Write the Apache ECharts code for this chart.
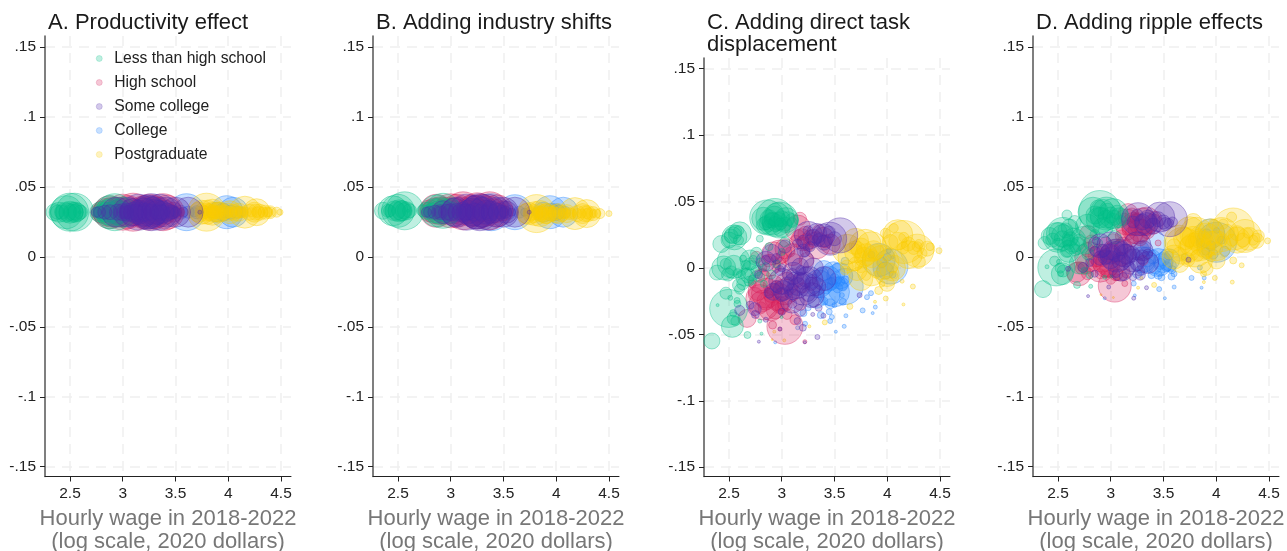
<!DOCTYPE html>
<html>
<head>
<meta charset="utf-8">
<script src="https://cdn.jsdelivr.net/npm/echarts@6/dist/echarts.min.js"></script>
<style>
  html, body { margin: 0; padding: 0; background: #fff; }
  #chart { width: 1287px; height: 551px; }
</style>
</head>
<body>
<div id="chart"></div>
<script>
// every point is [log hourly wage, wage effect, bubble size]
const groups = ['Less than high school', 'High school', 'Some college', 'College', 'Postgraduate']

const aLess = [[2.354,.032,17],[2.396,.032,20],[2.465,.032,33],[2.544,.032,38],[2.497,.032,38],[2.554,.032,20],[2.592,.032,3],[2.75,.032,10],[2.924,.032,37],[2.877,.032,33],[3.003,.032,30],[2.782,.032,20],[2.845,.032,20],
  [2.46,.032,20],[2.5,.032,22],[2.53,.032,20],[2.57,.032,18],[2.6,.032,14],[2.48,.032,18],[2.52,.032,16],[2.55,.032,16],[2.42,.032,14],[2.38,.032,14],[2.78,.032,12],[2.85,.032,25],[2.9,.032,28],[2.95,.032,25],[3.0,.032,20],[3.05,.032,15],[2.8,.032,15],[2.88,.032,20]]
const aHigh = [[2.877,.032,33],[3.098,.032,38],[3.383,.032,37],[3.193,.032,30],[2.972,.032,30],[3.478,.032,20],[2.782,.032,17],[3.288,.032,33],
  [2.8,.032,22],[2.85,.032,28],[2.9,.032,30],[2.95,.032,24],[3.02,.032,28],[3.05,.032,33],[3.1,.032,28],[3.15,.032,25],[3.2,.032,33],[3.25,.032,24],[3.3,.032,22],[3.35,.032,30],[3.4,.032,24],[3.45,.032,16],[3.5,.032,12],[3.55,.032,8],[3.0,.032,36],[3.25,.032,36],[3.42,.032,34]]
const aSome = [[3.272,.032,37],[3.256,.032,33],[3.415,.032,30],[3.098,.032,27],[2.94,.032,30],[3.478,.032,13],[3.62,.032,30],[3.573,.032,10],[3.731,.032,4],[2.75,.032,10],[3.003,.032,13],[3.161,.032,20],[3.351,.032,17],[3.446,.032,10],
  [2.78,.032,12],[2.83,.032,14],[2.88,.032,15],[2.95,.032,16],[3.0,.032,17],[3.05,.032,18],[3.1,.032,20],[3.15,.032,24],[3.2,.032,28],[3.23,.032,34],[3.28,.032,30],[3.3,.032,26],[3.33,.032,24],[3.38,.032,22],[3.42,.032,18],[3.46,.032,14],[3.5,.032,10],[3.04,.032,13],[3.08,.032,15],[3.12,.032,16],[3.17,.032,15],[3.22,.032,18],[3.27,.032,16],[3.32,.032,14],[3.37,.032,15],[3.15,.032,36],[3.35,.032,36],[3.5,.032,30],[3.05,.032,30]]
const aColl = [[3.604,.032,37],[3.984,.032,33],[4.047,.032,30],[3.889,.032,20],[3.7,.032,13],[4.12,.032,10],
  [3.55,.032,14],[3.62,.032,12],[3.68,.032,9],[3.74,.032,6],[3.78,.032,8],[3.85,.032,12],[3.95,.032,18],[3.97,.032,12],[4.02,.032,14],[4.08,.032,12]]
const aPost = [[3.794,.032,38],[4.158,.032,32],[4.269,.032,27],[4.016,.032,23],[3.92,.032,20],[4.396,.032,13],[4.491,.032,6],[4.459,.032,10],[4.269,.032,10],[3.858,.032,20],[4.364,.032,10],[4.111,.032,10],[4.079,.032,13],[3.826,.032,17],
  [3.76,.032,14],[3.8,.032,18],[3.83,.032,15],[3.87,.032,12],[3.9,.032,13],[3.95,.032,15],[3.98,.032,13],[4.03,.032,10],[4.07,.032,10],[4.13,.032,11],[4.17,.032,10],[4.22,.032,9],[4.26,.032,16],[4.29,.032,12],[4.33,.032,10],[4.38,.032,9],[3.75,.032,24],[3.72,.032,20],
  [3.8,.032,24],[3.85,.032,26],[3.9,.032,20],[4.0,.032,18],[4.05,.032,16],[4.1,.032,18],[4.2,.032,16],[4.25,.032,20],[4.3,.032,16],[4.35,.032,14],[4.4,.032,10],[3.78,.032,12],[3.82,.032,12],[3.88,.032,13],[4.0,.032,11],[4.12,.032,12]]

const bLess = [[2.358,.033,17],[2.405,.033,13],[2.453,.033,30],[2.563,.033,38],[2.5,.033,33],[2.532,.033,20],[2.595,.033,3],[2.927,.033,35],[2.864,.033,32],[2.99,.033,25],[2.769,.033,17],[2.737,.033,12],
  [2.47,.033,20],[2.51,.033,22],[2.54,.033,20],[2.58,.033,18],[2.61,.033,14],[2.49,.033,18],[2.55,.033,16],[2.42,.033,12],[2.79,.033,12],[2.85,.033,24],[2.9,.033,26],[2.95,.033,22],[3.0,.033,18],[3.04,.033,14],[2.82,.033,15],[2.88,.033,20]]
const bHigh = [[2.864,.033,33],[3.117,.033,38],[3.37,.033,38],[3.212,.033,30],[2.959,.033,27],[3.497,.033,20],[2.801,.033,18],[3.291,.033,33],
  [2.8,.033,22],[2.85,.033,26],[2.9,.033,28],[2.95,.033,24],[3.02,.033,26],[3.06,.033,33],[3.1,.033,28],[3.16,.033,25],[3.2,.033,32],[3.25,.033,24],[3.31,.033,22],[3.35,.033,30],[3.42,.033,24],[3.46,.033,16],[3.0,.033,34],[3.25,.033,36],[3.44,.033,32]]
const bSome = [[3.275,.032,37],[3.244,.032,33],[3.434,.032,30],[3.038,.032,28],[2.927,.032,23],[3.528,.032,22],[3.608,.032,30],[3.576,.032,8],[3.744,.032,4],[2.769,.032,10],[2.9,.032,12],[3.149,.032,17],[3.37,.032,17],[3.497,.032,10],
  [2.8,.032,12],[2.85,.032,14],[2.9,.032,15],[2.96,.032,16],[3.0,.032,17],[3.06,.032,18],[3.11,.032,20],[3.16,.032,24],[3.21,.032,28],[3.25,.032,34],[3.3,.032,30],[3.34,.032,24],[3.39,.032,22],[3.44,.032,18],[3.48,.032,14],[3.52,.032,12],[3.08,.032,15],[3.13,.032,16],[3.18,.032,15],[3.23,.032,18],[3.28,.032,16],[3.33,.032,14],[3.15,.032,36],[3.35,.032,36],[3.5,.032,30],[3.05,.032,30]]
const bColl = [[3.386,.032,37],[3.608,.032,35],[3.94,.032,33],[4.066,.032,30],[3.877,.032,20],[4.0,.032,17],[3.5,.032,13],
  [3.55,.032,14],[3.65,.032,12],[3.7,.032,8],[3.8,.032,8],[3.85,.032,12],[3.95,.032,18],[4.02,.032,14],[4.08,.032,12]]
const bPost = [[3.813,.031,38],[4.177,.031,32],[4.288,.031,28],[4.019,.031,20],[3.908,.031,20],[4.415,.031,10],[4.5,.031,6],[4.288,.031,10],[4.351,.031,8],[3.877,.031,17],[4.13,.031,8],[4.066,.031,10],[3.718,.031,20],
  [3.76,.031,14],[3.79,.031,18],[3.84,.031,15],[3.87,.031,12],[3.92,.031,13],[3.96,.031,15],[3.99,.031,13],[4.04,.031,10],[4.09,.031,10],[4.14,.031,11],[4.2,.031,10],[4.24,.031,9],[4.27,.031,16],[4.31,.031,12],[4.38,.031,9],[3.74,.031,22],
  [3.8,.031,24],[3.85,.031,26],[3.9,.031,20],[4.0,.031,18],[4.05,.031,16],[4.1,.031,18],[4.2,.031,16],[4.25,.031,20],[4.3,.031,16],[4.35,.031,14],[3.78,.031,12],[3.82,.031,12],[3.88,.031,13],[4.12,.031,12]]

const cLess = [[2.338,-.055,16],[2.497,-.0305,38],[2.386,-.0035,15],[2.544,.0045,33],[2.427,.018,17],[2.551,.023,25],[2.602,.026,23],[2.592,.028,10],[2.538,.0245,17],[2.532,-.044,22],[2.544,-.038,13],[2.471,-.019,12],[2.512,-.0225,5],[2.576,-.0245,6],[2.392,-.028,3],[2.675,-.0505,7],[2.808,-.0495,3],[2.595,-.013,13],[2.522,-.003,12],[2.544,.002,20],[2.76,.011,12],[2.713,-.002,20],[2.633,.007,7],[2.681,-.0055,15],[2.792,.022,7],[2.825,.037,23],[2.935,.038,38],[2.862,.038,35],[2.983,.036,36],[3.04,.036,25],[2.919,.033,22],[2.84,.032,17],[3.094,.036,13],[2.998,.0295,17],[3.03,.0195,10],[2.951,.003,8],[2.79,-.007,10],[2.998,-.037,3],[2.792,-.04,4],
  [2.85,.034,14],[2.88,.037,18],[2.91,.036,16],[2.94,.033,15],[2.97,.035,18],[3.0,.037,16],[3.03,.033,14],[3.06,.037,14],[3.1,.034,10],[2.88,.032,12],[2.93,.039,20],[2.96,.04,24],[2.99,.033,12],[2.52,.024,14],[2.56,.027,13],[2.59,.021,10],[2.5,.021,16],[2.62,-.005,8],[2.66,.002,10],[2.7,.003,12],[2.73,.006,9],[2.76,-.002,11],[2.69,-.01,10],[2.72,-.009,9],[2.63,-.012,12],[2.6,-.016,10],[2.58,-.004,9],[2.49,-.005,13],[2.47,.003,11],[2.56,-.04,9],[2.54,-.034,7],[2.58,-.027,7],[2.8,.004,9],[2.85,.001,8],[2.9,-.005,9],[2.83,-.012,7],[2.88,.016,8],[3.0,.012,7],[2.45,0,24],[2.7,.006,20],[2.65,-.007,18]]
const cHigh = [[3.03,-.044,36],[2.671,-.038,18],[2.792,-.023,28],[2.855,-.019,30],[2.935,-.032,17],[2.983,-.028,17],[2.776,-.017,20],[2.913,-.043,8],[2.92,-.013,20],[3.046,-.012,23],[2.76,.008,12],[2.92,.011,23],[3.03,.0145,20],[3.173,.037,13],[3.187,.022,20],[3.235,.0195,17],[3.33,.017,27],[3.395,.023,20],[3.11,.0045,17],[2.983,.003,13],[2.82,-.005,12],[3.173,-.027,13],[3.125,-.039,10],[3.219,-.0555,4],[2.983,-.046,4],[3.235,.006,15],[3.46,.018,20],
  [2.85,-.025,18],[2.9,-.02,16],[2.95,-.015,14],[3.0,-.03,13],[3.03,-.027,15],[2.75,-.02,14],[2.8,-.03,12],[2.95,-.028,10],[3.05,-.035,10],[3.0,-.02,12],[3.1,-.02,14],[3.15,-.01,12],[3.22,.026,14],[3.2,.018,14],[3.27,.023,15],[3.3,.02,12],[3.35,.028,12],[3.42,.02,13],[3.16,.025,10],[3.13,.02,12],[3.25,.016,10],[3.0,.008,12],[3.08,.012,10],[2.87,.005,11],[2.95,0,9],[2.82,0,8],[2.72,-.012,8],[3.05,-.005,10],[3.2,-.015,10],
  [2.83,-.028,30],[2.9,-.03,26],[2.97,-.022,28],[3.03,-.018,26],[2.8,-.01,24],[2.88,.002,22],[2.98,.012,24],[3.1,.01,22],[3.15,.03,26]]
const cSome = [[3.554,.0245,35],[3.459,.022,33],[3.395,.0245,23],[3.332,.026,20],[3.252,.0245,28],[2.903,.011,18],[3.03,.016,13],[3.284,-.0205,25],[3.205,-.0155,33],[3.141,-.013,27],[3.11,-.004,22],[3.014,-.017,20],[2.919,-.018,17],[3.332,-.014,18],[3.237,-.007,20],[2.983,-.002,10],[2.744,-.031,13],[2.602,-.032,10],[3.173,-.032,12],[2.849,-.039,5],[2.783,-.0555,3],[3.338,-.052,5],[3.219,-.056,3],[2.983,-.046,4],[3.294,-.035,4],[3.738,-.0205,5],[3.395,-.036,5],[3.205,.013,13],[3.173,.001,17],
  [3.3,.023,16],[3.35,.021,13],[3.4,.019,15],[3.45,.027,12],[3.5,.022,14],[3.25,.028,10],[3.2,.02,12],[3.27,.016,10],[3.22,.012,10],[3.15,.018,10],[3.05,-.012,14],[3.1,-.018,16],[3.15,-.014,18],[3.2,-.01,16],[3.25,-.02,14],[3.3,-.025,12],[3.0,-.02,14],[2.95,-.014,12],[2.88,-.019,10],[3.1,-.005,12],[3.18,-.002,10],[3.28,-.012,13],[2.85,.006,9],[2.95,.007,10],[3.0,0,8],[2.78,-.005,8],[2.7,-.028,8],[2.75,-.035,8],[3.15,-.04,7],[3.2,-.045,7],[3.0,-.033,7],[3.35,-.03,7],[3.1,-.027,9],
  [3.0,-.01,26],[3.1,-.025,24],[3.25,-.01,30],[3.18,.005,26],[2.85,.005,20],[3.3,0,20],[3.4,-.008,24]]
const cColl = [[3.602,-.014,36],[3.443,-.008,25],[3.57,-.012,13],[3.49,-.004,23],[3.4,-.002,20],[3.332,-.024,17],[4.03,.001,35],[3.919,.006,33],[3.98,-.002,17],[3.459,-.027,10],[3.5,-.028,5],[3.579,-.0255,7],[3.37,-.0355,7],[3.475,-.037,5],[3.459,-.04,5],[3.608,-.036,4],[3.592,-.044,4],[3.513,-.048,3],[2.938,-.056,3],[3.767,-.032,5],[3.887,-.0295,4],[3.862,-.034,3],[3.808,-.022,5],[3.846,-.019,5],[3.221,-.042,5],[3.206,-.034,7],[3.57,-.0205,5],[4.014,.013,5],[4.05,.008,3],
  [3.55,-.01,10],[3.58,-.014,9],[3.6,-.009,8],[3.53,-.015,10],[3.5,-.008,10],[3.47,-.012,12],[3.42,-.015,12],[3.38,-.005,14],[3.52,0,9],[3.6,.005,8],[3.3,-.01,14],[3.35,-.018,12],[3.4,-.025,8],[3.45,-.033,6],[3.25,-.03,6],[3.15,-.045,4],[3.95,.004,10],[4.0,.008,8],[3.85,.01,7],[4.05,-.005,7],
  [3.5,-.018,30],[3.55,-.006,26],[3.35,-.012,28],[3.45,-.02,22]]
const cPost = [[3.792,.017,32],[3.665,.008,28],[3.713,-.002,20],[4.157,.0195,43],[4.284,.013,33],[4.3,.0045,13],[4.379,.0145,15],[4.405,.016,8],[4.491,.013,6],[4.062,.03,9],[3.983,.026,10],[4.284,.016,10],[4.157,.023,10],[4.03,.0195,15],[3.78,.008,20],[3.871,.013,20],[3.998,-.012,15],[4.062,-.0055,8],[3.919,-.017,8],[4.243,-.014,5],[4.141,-.01,4],[3.986,-.023,5],[3.884,-.0255,3],[4.154,-.0275,3],[3.646,-.029,6],[3.408,-.041,5],[3.262,-.044,3],[2.929,-.048,3],[3.024,-.0545,3],[2.91,-.054,2],[3.617,.001,13],
  [3.7,.012,22],[3.75,.015,20],[3.8,.01,22],[3.85,.007,18],[3.9,.012,15],[3.7,.003,14],[3.75,.001,12],[4.2,.018,14],[4.25,.015,13],[4.3,.018,9],[4.33,.011,10],[4.1,.02,18],[4.15,.015,12],[3.95,.005,12],[4.0,.01,13],[4.05,0,10],[3.6,-.002,9],[3.8,-.006,9],[3.9,-.005,7],[3.95,-.012,6],
  [3.62,.014,30],[3.7,.02,26],[3.85,.016,30],[3.95,.004,34],[3.85,-.003,28],[3.75,-.008,24],[4.1,.025,30],[4.2,.01,28],[4.05,0,26],[4.0,-.005,24]]

const dLess = [[2.358,-.023,17],[2.484,-.0075,37],[2.468,-.003,10],[2.541,-.012,22],[2.525,-.012,6],[2.396,-.007,4],[2.509,-.0035,5],[2.373,.01,13],[2.421,.015,17],[2.547,.0165,33],[2.547,.015,23],[2.611,.021,17],[2.658,.025,13],[2.585,.03,10],[2.68,-.02,7],[2.81,-.021,4],[2.595,.0045,13],[2.69,.008,17],[2.8,-.013,7],[2.896,.0325,42],[2.832,.032,30],[2.959,.031,33],[3.022,.031,30],[2.896,.026,27],[3.085,.028,20],[3.022,.025,17],[2.927,.021,20],[3.038,.014,13],[2.785,.002,12],[2.943,-.0145,4],[3.006,-.014,3],
  [2.85,.03,18],[2.9,.028,20],[2.93,.034,20],[2.96,.027,18],[3.0,.03,16],[3.03,.028,15],[3.06,.032,14],[2.88,.035,16],[2.97,.033,15],[3.1,.026,10],[2.5,.018,18],[2.54,.013,16],[2.57,.019,15],[2.6,.012,12],[2.45,.012,14],[2.5,.009,12],[2.63,.008,16],[2.66,.005,12],[2.7,.012,12],[2.74,.006,9],[2.78,.01,9],[2.62,.013,14],[2.58,.004,12],[2.55,-.01,12],[2.52,-.008,10],[2.85,.016,10],[2.88,.01,9],[2.75,-.01,7],
  [2.75,.012,28],[2.65,.012,24],[2.5,.014,30],[2.78,.022,24],[2.6,.004,22],[2.7,-.005,20]]
const dHigh = [[3.038,-.0205,33],[2.674,-.011,20],[2.769,-.005,20],[2.959,-.005,27],[2.896,.001,23],[3.085,-.01,20],[2.785,.0165,17],[3.054,.0045,23],[3.165,.031,20],[3.212,.0235,23],[3.275,.019,23],[3.339,.026,27],[3.402,.0235,20],[3.149,.019,20],[3.117,.008,17],[3.2,.012,13],[2.943,-.012,8],[3.054,-.0145,7],[3.307,-.0025,10],[3.449,.01,6],[3.133,-.019,6],
  [2.85,0,20],[2.92,-.003,22],[2.98,-.008,18],[3.0,.003,20],[3.1,-.002,14],[3.05,-.012,14],[2.78,-.012,12],[2.72,-.008,12],[2.82,.01,16],[2.78,.005,14],[3.2,.03,14],[3.25,.027,13],[3.3,.021,16],[3.35,.018,14],[3.22,.016,18],[3.18,.021,16],[3.28,.013,14],[3.42,.028,13],[3.13,.027,12],[3.1,.015,12],[3.02,.012,13],[2.95,.01,12],[3.0,-.016,10],[2.9,-.012,10],[3.15,-.012,9],
  [2.8,0,30],[2.9,-.008,28],[3.0,-.004,30],[3.1,.003,26],[2.7,-.012,24],[3.25,.02,30],[3.3,.025,28],[3.15,.025,26]]
const dSome = [[3.56,.027,35],[3.465,.0285,30],[3.259,.027,33],[3.339,.0235,23],[3.52,.0235,13],[3.212,.025,12],[3.585,.025,10],[3.054,.001,33],[3.133,.001,23],[2.991,.002,20],[3.212,-.0025,23],[3.307,.0045,20],[2.927,.0045,13],[2.737,-.0075,10],[2.595,-.0085,5],[2.864,.0115,8],[3.275,-.01,10],[3.212,-.0145,7],[2.848,-.012,7],[2.785,-.028,3],[3.218,-.0295,4],[3.339,-.022,4],[2.981,-.0215,4],[3.737,-.002,5],
  [3.0,-.002,18],[3.05,.004,20],[3.1,-.003,18],[3.15,.002,20],[3.2,.002,16],[3.25,-.005,14],[3.3,0,14],[2.95,0,15],[2.9,-.001,14],[3.1,.006,14],[3.18,-.008,12],[3.28,-.013,10],[3.35,.002,10],[3.3,.025,16],[3.35,.027,18],[3.4,.022,16],[3.45,.027,15],[3.5,.025,14],[3.25,.03,12],[3.55,.024,10],[2.85,.004,10],[2.8,-.004,8],[3.12,-.014,8],[3.05,-.012,8],
  [3.0,.008,28],[3.1,-.008,26],[3.25,.008,28],[2.9,.008,24],[3.35,-.004,22]]
const dColl = [[3.497,-.004,20],[3.56,-.006,13],[3.465,-.01,10],[3.339,0,20],[3.275,.0045,20],[3.481,-.0145,7],[3.576,-.014,7],[3.386,-.013,7],[3.766,-.015,5],[3.886,-.015,4],[3.861,-.022,3],[3.601,-.0215,4],[3.459,-.023,5],[3.513,-.0295,3],[3.218,-.019,5],[2.943,-.0295,3],[3.228,-.0275,3],[3.845,-.0075,5],[4.003,.019,6],[3.97,.002,10],[3.908,.0165,10],[3.94,.0165,30],[4.003,.0105,40],
  [3.5,-.002,12],[3.53,-.007,10],[3.47,-.005,11],[3.42,-.008,12],[3.4,0,14],[3.35,-.006,14],[3.55,.001,9],[3.58,-.009,8],[3.45,-.013,8],[3.3,-.009,11],[3.25,-.012,9],[3.6,-.012,6],[3.7,0,7],[3.85,.01,9],[3.95,.008,10],[4.05,.012,8],[4.08,.004,10],[3.9,.004,8],
  [3.45,-.004,28],[3.55,-.002,22],[3.3,-.002,26],[3.4,.01,26]]
const dPost = [[4.161,.02,42],[4.272,.015,33],[4.304,.013,23],[4.383,.0115,15],[4.399,.015,12],[4.487,.0115,6],[3.813,.0165,33],[3.687,.008,37],[3.845,.008,30],[3.782,.025,17],[3.972,.0235,10],[4.066,.0235,10],[4.146,.0285,10],[4.003,-.0025,17],[3.908,-.0085,13],[3.655,-.005,17],[3.737,-.002,6],[4.241,-.006,5],[4.152,-.018,4],[3.987,-.015,5],[3.883,-.018,3],[4.161,-.0025,7],[3.411,-.02,5],[3.259,-.022,3],[2.908,-.027,2],[3.025,-.029,2],[3.291,-.015,3],[3.07,-.0155,3],
  [3.7,.013,22],[3.75,.008,20],[3.78,.014,22],[3.85,.013,20],[3.9,.005,18],[3.95,.012,18],[3.65,.002,14],[3.6,.008,14],[3.73,-.002,14],[3.82,.001,12],[4.2,.017,15],[4.25,.012,14],[4.3,.017,10],[4.35,.012,10],[4.1,.018,15],[4.05,.012,12],[4.15,.012,12],[3.95,0,10],[4.0,.006,13],[3.55,.002,10],[3.88,-.012,6],
  [3.65,.012,30],[3.8,.005,34],[3.9,.012,34],[3.75,.018,30],[4.05,.016,34],[4.0,.008,30],[3.95,.018,26],[4.2,.012,26],[3.6,0,24],[3.85,-.003,24]]

const xTicks = [2.5, 3, 3.5, 4, 4.5]
const yTicks = [-0.15, -0.1, -0.05, 0, 0.05, 0.1, 0.15]
const yTickLabels = ['-.15', '-.1', '-.05', '0', '.05', '.1', '.15']
const panelTitles = ['A. Productivity effect', 'B. Adding industry shifts', 'C. Adding direct task\ndisplacement', 'D. Adding ripple effects']
const xTitle = 'Hourly wage in 2018-2022\n(log scale, 2020 dollars)'

const panels = [
  [aLess, aHigh, aSome, aColl, aPost],
  [bLess, bHigh, bSome, bColl, bPost],
  [cLess, cHigh, cSome, cColl, cPost],
  [dLess, dHigh, dSome, dColl, dPost],
]
const lefts = [45, 373, 704, 1033]
const tops = [36, 36, 58, 36]
const fills = ['rgba(0,190,135,0.25)', 'rgba(215,30,90,0.25)', 'rgba(80,40,170,0.25)', 'rgba(30,130,255,0.25)', 'rgba(250,205,0,0.25)']
const strokes = ['rgba(0,190,135,0.38)', 'rgba(215,30,90,0.38)', 'rgba(80,40,170,0.38)', 'rgba(30,130,255,0.38)', 'rgba(250,205,0,0.38)']
// blue goes down first, purple ends up on top
const drawOrder = [3, 4, 1, 0, 2]
const font = '"Liberation Sans", Arial, sans-serif'

const gridLine = { show: true, lineStyle: { color: '#f0f0f0', width: 1.5, type: [10, 7] } }

const chart = echarts.init(document.getElementById('chart'), undefined, { renderer: 'canvas' })

chart.setOption({
  animation: false,
  backgroundColor: '#fff',
  textStyle: { fontFamily: font },
  title: panelTitles.map((t, i) => ({
    text: t,
    left: lefts[i] + 3,
    top: 12,
    padding: 0,
    textStyle: { fontFamily: font, fontSize: 22, fontWeight: 'normal', color: '#1a1a1a', lineHeight: 22 },
  })),
  legend: {
    data: groups,
    orient: 'vertical',
    left: 96,
    top: 50,
    padding: 0,
    itemGap: 7,
    itemWidth: 6,
    itemHeight: 6,
    icon: 'circle',
    selectedMode: false,
    itemStyle: { borderWidth: 0.5 },
    textStyle: { fontFamily: font, fontSize: 15.7, color: '#222', padding: [0, 0, 0, 7], height: 17, lineHeight: 17 },
  },
  // outerBoundsMode off: otherwise v6 shrinks the grids to fit the two line axis name
  grid: lefts.map((l, i) => ({ left: l, top: tops[i], width: 246, height: 476.5 - tops[i], outerBoundsMode: 'none' })),
  xAxis: lefts.map((_, i) => ({
    gridIndex: i,
    type: 'value',
    min: 2.263,
    max: 4.595,
    name: xTitle,
    nameLocation: 'middle',
    nameGap: 31,
    nameTextStyle: { fontFamily: font, fontSize: 22, color: '#777', lineHeight: 23, verticalAlign: 'top' },
    axisLine: { show: true, onZero: false, lineStyle: { color: '#222', width: 1 } },
    axisTick: { show: true, length: 5, lineStyle: { color: '#222' }, customValues: xTicks },
    axisLabel: { color: '#222', fontSize: 15.5, margin: 9, customValues: xTicks },
    splitLine: gridLine,
  })),
  yAxis: lefts.map((_, i) => ({
    gridIndex: i,
    type: 'value',
    min: -0.157,
    max: 0.158,
    axisLine: { show: true, onZero: false, lineStyle: { color: '#555', width: 1.5 } },
    axisTick: { show: true, length: 5, lineStyle: { color: '#222' }, customValues: yTicks },
    axisLabel: {
      color: '#222',
      fontSize: 15.5,
      margin: 9,
      customValues: yTicks,
      formatter: (v) => yTickLabels[yTicks.findIndex((t) => Math.abs(t - v) < 1e-6)],
    },
    splitLine: gridLine,
  })),
  series: panels.flatMap((panel, i) =>
    drawOrder.map((g) => ({
      name: groups[g],
      type: 'scatter',
      xAxisIndex: i,
      yAxisIndex: i,
      data: panel[g],
      symbolSize: (v) => v[2],
      silent: true,
      itemStyle: { color: fills[g], borderColor: strokes[g], borderWidth: 1, opacity: 1 },
    }))
  ),
})
</script>
</body>
</html>
